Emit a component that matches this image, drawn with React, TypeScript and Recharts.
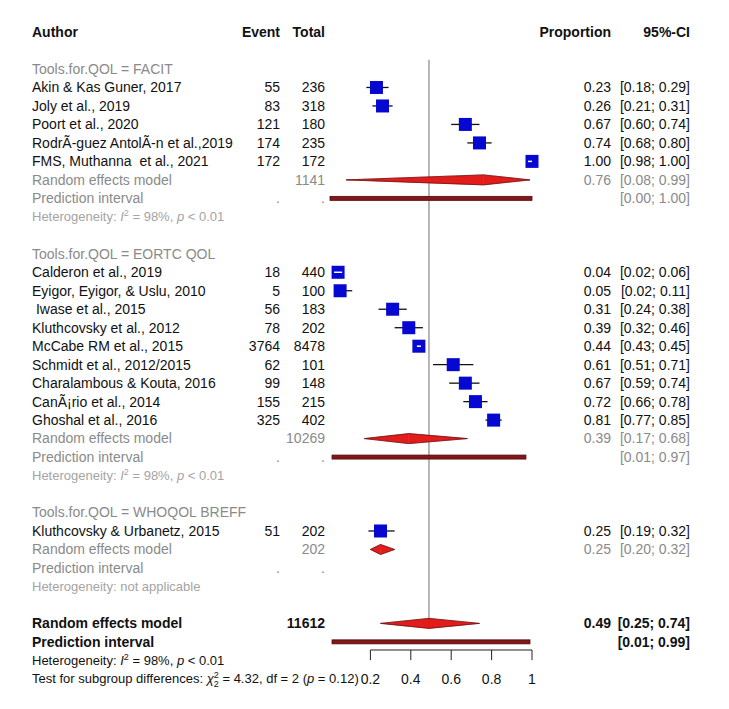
import { ComposedChart, XAxis, YAxis, Scatter, ErrorBar, ReferenceLine } from 'recharts'

// studies, in the order they are listed
const studyAuthors = [
  'Akin & Kas Guner, 2017',
  'Joly et al., 2019',
  'Poort et al., 2020',
  'RodrÃ-guez AntolÃ-n et al.,2019',
  'FMS, Muthanna  et al., 2021',
  'Calderon et al., 2019',
  'Eyigor, Eyigor, & Uslu, 2010',
  ' Iwase et al., 2015',
  'Kluthcovsky et al., 2012',
  'McCabe RM et al., 2015',
  'Schmidt et al., 2012/2015',
  'Charalambous & Kouta, 2016',
  'CanÃ¡rio et al., 2014',
  'Ghoshal et al., 2016',
  'Kluthcovsky & Urbanetz, 2015',
]
const studyGroup = [0, 0, 0, 0, 0, 1, 1, 1, 1, 1, 1, 1, 1, 1, 2]
const studyEvents = [55, 83, 121, 174, 172, 18, 5, 56, 78, 3764, 62, 99, 155, 325, 51]
const studyTotals = [236, 318, 180, 235, 172, 440, 100, 183, 202, 8478, 101, 148, 215, 402, 202]
const studyProps = [0.23, 0.26, 0.67, 0.74, 1.0, 0.04, 0.05, 0.31, 0.39, 0.44, 0.61, 0.67, 0.72, 0.81, 0.25]
const studyLower = [0.18, 0.21, 0.6, 0.68, 0.98, 0.02, 0.02, 0.24, 0.32, 0.43, 0.51, 0.59, 0.66, 0.77, 0.19]
const studyUpper = [0.29, 0.31, 0.74, 0.8, 1.0, 0.06, 0.11, 0.38, 0.46, 0.45, 0.71, 0.74, 0.78, 0.85, 0.32]

// subgroups
const groupLabels = ['Tools.for.QOL = FACIT', 'Tools.for.QOL = EORTC QOL', 'Tools.for.QOL = WHOQOL BREFF']
const groupTotals = [1141, 10269, 202]
const groupProps = [0.76, 0.39, 0.25]
const groupLower = [0.08, 0.17, 0.2]
const groupUpper = [0.99, 0.68, 0.32]
const groupPredLower: (number | null)[] = [0.0, 0.01, null]
const groupPredUpper: (number | null)[] = [1.0, 0.97, null]
const groupI2: (string | null)[] = ['98%', '98%', null]

// overall
const overallTotal = 11612
const overallProp = 0.49
const overallLower = 0.25
const overallUpper = 0.74
const overallPredLower = 0.01
const overallPredUpper = 0.99
const overallI2 = '98%'
const testChi2 = '4.32'
const testDf = 2
const testP = '0.12'

const axisTicks = [0.2, 0.4, 0.6, 0.8, 1]

const FONT = '"Liberation Sans", Arial, sans-serif'
const BLACK = '#111'
const GREY = '#8a8a8a'
const LIGHT = '#a4a4a4'
const BLUE = '#0707d2'
const RED = '#e21b1b'
const MAROON = '#861519'

const AXIS_ROW = 31.44

type Row = { y: number; kind: string; i?: number; g?: number }

// lay the rows out top to bottom
const rows: Row[] = [{ y: -2, kind: 'header' }]
const studyRow: number[] = []
let r = 0
groupLabels.forEach((_, g) => {
  rows.push({ y: r++, kind: 'group', g })
  studyAuthors.forEach((_a, i) => {
    if (studyGroup[i] === g) {
      studyRow[i] = r
      rows.push({ y: r++, kind: 'study', i })
    }
  })
  rows.push({ y: r++, kind: 're', g })
  rows.push({ y: r++, kind: 'pi', g })
  rows.push({ y: r++, kind: 'het', g })
  r++
})
const overallRow = r
rows.push({ y: r++, kind: 'allre' })
rows.push({ y: r++, kind: 'allpi' })
rows.push({ y: r++, kind: 'allhet' })
rows.push({ y: r++, kind: 'test' })
const rowByY = new Map(rows.map((row) => [row.y, row]))

const studyData = studyProps.map((p, i) => ({
  x: p,
  y: studyRow[i],
  lo: studyLower[i],
  hi: studyUpper[i],
  err: [p - studyLower[i], studyUpper[i] - p],
  inside: studyUpper[i] - studyLower[i] < 0.065,
}))
const tickLabels = axisTicks.map((t) => ({ x: t, y: overallRow + 3, label: String(t) }))

const fmt = (v: number) => v.toFixed(2)
const ci = (lo: number, hi: number) => `[${fmt(lo)}; ${fmt(hi)}]`

function Het({ y, i2, color, size }: { y: number; i2: string | null; color: string; size: number }) {
  return (
    <text x={32} y={y} dy="0.35em" fill={color} fontSize={size} fontFamily={FONT}>
      Heterogeneity:{' '}
      {i2 === null ? (
        'not applicable'
      ) : (
        <>
          <tspan fontStyle="italic">I</tspan>
          <tspan dy={-5} fontSize={size - 4}>2</tspan>
          <tspan dy={5}> = {i2}, </tspan>
          <tspan fontStyle="italic">p</tspan>
          <tspan> &lt; 0.01</tspan>
        </>
      )}
    </text>
  )
}

// one tick per table row: left columns and right columns
function RowTick(props: any) {
  const { y, payload } = props
  const row = rowByY.get(payload.value)
  if (!row) return <g />
  const t = (x: number, s: string, fill: string, opts: any = {}) => (
    <text x={x} y={y} dy="0.35em" fill={fill} fontSize={14} fontFamily={FONT} style={{ whiteSpace: 'pre' }} {...opts}>
      {s}
    </text>
  )
  const end = { textAnchor: 'end' }
  const bold = { fontWeight: 'bold' }
  const boldEnd = { ...bold, ...end }
  switch (row.kind) {
    case 'header':
      return (
        <g>
          {t(32, 'Author', BLACK, bold)}
          {t(280, 'Event', BLACK, boldEnd)}
          {t(325, 'Total', BLACK, boldEnd)}
          {t(611, 'Proportion', BLACK, boldEnd)}
          {t(690, '95%-CI', BLACK, boldEnd)}
        </g>
      )
    case 'group':
      return t(32, groupLabels[row.g!], GREY)
    case 'study':
      return (
        <g>
          {t(32, studyAuthors[row.i!], BLACK)}
          {t(280, String(studyEvents[row.i!]), BLACK, end)}
          {t(325, String(studyTotals[row.i!]), BLACK, end)}
          {t(611, fmt(studyProps[row.i!]), BLACK, end)}
          {t(690, ci(studyLower[row.i!], studyUpper[row.i!]), BLACK, end)}
        </g>
      )
    case 're':
      return (
        <g>
          {t(32, 'Random effects model', GREY)}
          {t(325, String(groupTotals[row.g!]), GREY, end)}
          {t(611, fmt(groupProps[row.g!]), GREY, end)}
          {t(690, ci(groupLower[row.g!], groupUpper[row.g!]), GREY, end)}
        </g>
      )
    case 'pi': {
      const lo = groupPredLower[row.g!]
      const hi = groupPredUpper[row.g!]
      return (
        <g>
          {t(32, 'Prediction interval', GREY)}
          {t(280, '.', GREY, end)}
          {t(325, '.', GREY, end)}
          {lo !== null && hi !== null && t(690, ci(lo, hi), GREY, end)}
        </g>
      )
    }
    case 'het':
      return <Het y={y} i2={groupI2[row.g!]} color={LIGHT} size={13} />
    case 'allre':
      return (
        <g>
          {t(32, 'Random effects model', BLACK, bold)}
          {t(325, String(overallTotal), BLACK, boldEnd)}
          {t(611, fmt(overallProp), BLACK, boldEnd)}
          {t(690, ci(overallLower, overallUpper), BLACK, boldEnd)}
        </g>
      )
    case 'allpi':
      return (
        <g>
          {t(32, 'Prediction interval', BLACK, bold)}
          {t(690, ci(overallPredLower, overallPredUpper), BLACK, boldEnd)}
        </g>
      )
    case 'allhet':
      return <Het y={y} i2={overallI2} color={BLACK} size={13} />
    case 'test':
      return (
        <text x={32} y={y} dy="0.35em" fill={BLACK} fontSize={13} fontFamily={FONT}>
          Test for subgroup differences:{' '}
          <tspan fontStyle="italic">χ</tspan>
          <tspan dy={-5} fontSize={9}>2</tspan>
          <tspan dx={-5} dy={9} fontSize={9}>2</tspan>
          <tspan dy={-4}> = {testChi2}, df = {testDf} (</tspan>
          <tspan fontStyle="italic">p</tspan>
          <tspan> = {testP})</tspan>
        </text>
      )
  }
  return <g />
}

// diamond drawn as two triangles meeting at the estimate
const halfDiamond = (side: 'left' | 'right') => (p: any) => {
  const { x1, y1, x2 } = p
  const h = 5
  const pts =
    side === 'left'
      ? `${x1},${y1} ${x2},${y1 - h} ${x2},${y1 + h}`
      : `${x2},${y1} ${x1},${y1 - h} ${x1},${y1 + h}`
  const edge =
    side === 'left'
      ? `${x2},${y1 - h} ${x1},${y1} ${x2},${y1 + h}`
      : `${x1},${y1 - h} ${x2},${y1} ${x1},${y1 + h}`
  return (
    <g>
      <polygon points={pts} fill={RED} stroke={RED} strokeWidth={0.5} />
      <polyline points={edge} fill="none" stroke="#5c1010" strokeWidth={0.7} />
    </g>
  )
}

const predBar = (p: any) => (
  <rect x={p.x1} y={p.y1 - 2} width={p.x2 - p.x1} height={4} fill={MAROON} stroke="#4a0b0d" strokeWidth={0.8} />
)

export default function App() {
  const diamonds = [
    ...groupProps.map((p, g) => ({ y: rows.find((row) => row.kind === 're' && row.g === g)!.y, est: p, lo: groupLower[g], hi: groupUpper[g] })),
    { y: overallRow, est: overallProp, lo: overallLower, hi: overallUpper },
  ]
  const preds = [
    ...groupPredLower.map((lo, g) => ({ y: rows.find((row) => row.kind === 'pi' && row.g === g)!.y, lo, hi: groupPredUpper[g] })),
    { y: overallRow + 1, lo: overallPredLower, hi: overallPredUpper },
  ].filter((d) => d.lo !== null && d.hi !== null)

  return (
    <div style={{ position: 'absolute', left: 0, top: 0, width: 729, height: 709, background: '#fff' }}>
      <ComposedChart width={729} height={709} margin={{ top: 13.56, right: 197, bottom: 11.7, left: 0 }}>
        <XAxis type="number" dataKey="x" domain={[0, 1]} hide />
        <YAxis
          type="number"
          dataKey="y"
          domain={[-3, 34]}
          reversed
          width={330}
          ticks={rows.map((row) => row.y)}
          interval={0}
          axisLine={false}
          tickLine={false}
          tick={(p: any) => <RowTick {...p} />}
        />

        <ReferenceLine
          segment={[{ x: overallProp, y: -0.5 }, { x: overallProp, y: overallRow }]}
          stroke="#707070"
          strokeWidth={1}
          ifOverflow="visible"
        />

        {preds.map((d, k) => (
          <ReferenceLine key={`pi${k}`} segment={[{ x: d.lo!, y: d.y }, { x: d.hi!, y: d.y }]} shape={predBar} ifOverflow="visible" />
        ))}
        {diamonds.map((d, k) => (
          <ReferenceLine key={`dl${k}`} segment={[{ x: d.lo, y: d.y }, { x: d.est, y: d.y }]} shape={halfDiamond('left')} ifOverflow="visible" />
        ))}
        {diamonds.map((d, k) => (
          <ReferenceLine key={`dr${k}`} segment={[{ x: d.est, y: d.y }, { x: d.hi, y: d.y }]} shape={halfDiamond('right')} ifOverflow="visible" />
        ))}

        {/* x axis: line on top, ticks pointing down */}
        <ReferenceLine segment={[{ x: 0.2, y: AXIS_ROW }, { x: 1, y: AXIS_ROW }]} stroke="#222" strokeWidth={1} ifOverflow="visible" />
        {axisTicks.map((t) => (
          <ReferenceLine key={`t${t}`} segment={[{ x: t, y: AXIS_ROW }, { x: t, y: AXIS_ROW + 0.55 }]} stroke="#222" strokeWidth={1} ifOverflow="visible" />
        ))}
        <Scatter
          data={tickLabels}
          isAnimationActive={false}
          shape={(p: any) => (
            <text x={p.cx} y={p.cy} dy="0.35em" textAnchor="middle" fontSize={14} fill={BLACK} fontFamily={FONT}>
              {p.payload.label}
            </text>
          )}
        />

        {/* confidence intervals first, squares on top */}
        <Scatter data={studyData} isAnimationActive={false} shape={() => <g />}>
          <ErrorBar dataKey="err" direction="x" width={0} stroke={BLACK} strokeWidth={1.3} />
        </Scatter>
        <Scatter
          data={studyData}
          isAnimationActive={false}
          shape={(p: any) => <rect x={p.cx - 6.5} y={p.cy - 6.5} width={13} height={13} fill={BLUE} />}
        />
        {/* CIs narrower than the square are shown in white inside it */}
        {studyData
          .filter((d) => d.inside)
          .map((d, k) => (
            <Scatter
              key={`in${k}`}
              data={[{ x: d.lo, y: d.y }, { x: d.hi, y: d.y }]}
              isAnimationActive={false}
              line={{ stroke: '#fff', strokeWidth: 1.5 }}
              shape={() => <g />}
            />
          ))}
      </ComposedChart>
    </div>
  )
}
